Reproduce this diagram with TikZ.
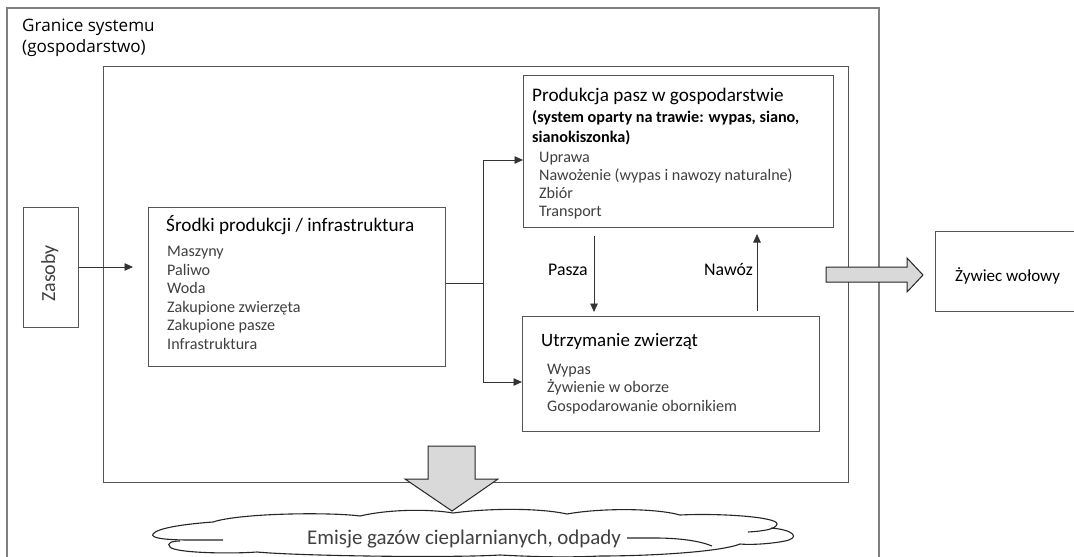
\documentclass[tikz,border=0pt]{standalone}
\usepackage{fontspec}
\setmainfont{Carlito}
\newfontfamily\titlefont{Open Sans}
\usetikzlibrary{arrows.meta,calc}
\definecolor{linegray}{HTML}{555555}
\definecolor{outergray}{HTML}{808080}
\definecolor{textgray}{HTML}{404040}
\definecolor{arrowfill}{HTML}{D9D9D9}
\newcommand{\fs}[2]{\fontsize{#1}{#2}\selectfont}
\begin{document}
\begin{tikzpicture}[x=1pt,y=-1pt,
  box/.style={draw=linegray, line width=1pt, inner sep=0pt, anchor=north west},
  headtxt/.style={anchor=base west, inner sep=0pt, text=black, font=\fs{19.2}{23}},
  itemtxt/.style={anchor=base west, inner sep=0pt, text=textgray, font=\fs{16.1}{19}},
  arr/.style={draw=black!80, line width=0.8pt, -{Triangle[length=8.5pt,width=7.5pt]}},
  conn/.style={draw=black!80, line width=0.8pt},
  bigarrow/.style={draw=black!85, line width=1pt, fill=arrowfill, line join=miter},
  cloudline/.style={draw=black!85, line width=1.1pt}]
\useasboundingbox (0,0) rectangle (1074,557);
\fill[white] (0,0) rectangle (1074,557);
\clip (0,0) rectangle (1074,557);

% outer system boundary
\draw[draw=outergray, line width=1.3pt] (7,580) -- (7,8) -- (879,8) -- (879,580);
\node[anchor=base west, inner sep=0pt, font=\titlefont\fs{17.1}{21}] (title1) at (22,31.5) {Granice systemu};
\node[anchor=base west, inner sep=0pt, font=\titlefont\fs{17.1}{21}] (title2) at (22,52.5) {(gospodarstwo)};

% inner farm box
\node[box, minimum width=745pt, minimum height=416pt] (inner) at (103,66) {};

% Zasoby
\node[box, minimum width=55pt, minimum height=120pt] (zas) at (23,207) {};
\node[anchor=base west, inner sep=0pt, rotate=90, text=textgray, font=\fs{20}{24}] (zastxt) at (55,302) {Zasoby};

% Srodki produkcji
\node[box, minimum width=297pt, minimum height=159pt] (srod) at (148,207) {};
\node[headtxt] (srodh) at (166,231) {Środki produkcji / infrastruktura};
\foreach \t [count=\i] in {Maszyny,Paliwo,Woda,Zakupione zwierzęta,Zakupione pasze,Infrastruktura}
  \node[itemtxt] (si\i) at (167,{238.2+18.5*\i}) {\t};

% Produkcja pasz
\node[box, minimum width=310pt, minimum height=152pt] (prod) at (523,75) {};
\node[headtxt, font=\fs{19.2}{22}] (prodh1) at (532,101) {Produkcja pasz w gospodarstwie};
\node[headtxt, font=\bfseries\fs{16.2}{20}] (prodh2) at (532,122) {(system oparty na trawie: wypas, siano,};
\node[headtxt, font=\bfseries\fs{16.2}{20}] (prodh3) at (532,142) {sianokiszonka)};
\foreach \t [count=\i] in {Uprawa,Nawożenie (wypas i nawozy naturalne),Zbiór,Transport}
  \node[itemtxt] (pi\i) at (539,{144+18*\i}) {\t};

% Utrzymanie zwierzat
\node[box, minimum width=297pt, minimum height=115pt] (utrz) at (522,316) {};
\node[headtxt, font=\fs{18.9}{22}] (utrzh) at (541,346) {Utrzymanie zwierząt};
\foreach \t [count=\i] in {Wypas,Żywienie w oborze,Gospodarowanie obornikiem}
  \node[itemtxt] (ui\i) at (547,{355.5+18.5*\i}) {\t};

% Zywiec
\node[box, minimum width=160pt, minimum height=80pt] (zyw) at (935,231) {};
\node[anchor=base west, inner sep=0pt, font=\fs{17}{20}] (zywtxt) at (955,281) {Żywiec wołowy};

% connectors
\coordinate (jm) at (483,283);
\coordinate (jt) at (483,160);
\coordinate (jb) at (483,382);
\coordinate (ya) at (0,267);
\draw[arr, shorten >=15pt] (zas.east |- ya) -- (srod.west |- ya);
\draw[conn] (srod.east |- jm) -- (jm);
\draw[conn] (jt) -- (jb);
\draw[arr] (jt) -- (prod.west |- jt);
\draw[arr] (jb) -- (utrz.west |- jb);

\coordinate (pa) at (594,0);
\coordinate (nw) at (757,0);
\draw[arr, shorten <=8pt, shorten >=4pt] (pa |- prod.south) -- (pa |- utrz.north);
\draw[arr, shorten <=5pt, shorten >=6pt] (nw |- utrz.north) -- (nw |- prod.south);
\node[anchor=base west, inner sep=0pt, font=\fs{17.8}{21}] (pasza) at (548,275) {Pasza};
\node[anchor=base west, inner sep=0pt, font=\fs{17.8}{21}] (nawoz) at (704,275) {Nawóz};

% big arrows
\draw[bigarrow] (826,267) -- (907,267) -- (907,258) -- (923,275) -- (907,292) -- (907,282) -- (826,282) -- cycle;
\draw[bigarrow] (428,446) -- (475,446) -- (475,479) -- (498,479) -- (452,511) -- (405,479) -- (428,479) -- cycle;

% cloud
\draw[cloudline] (223,540) -- (190,540) .. controls (165,540) and (150,538) .. (153,534)
  .. controls (157,528) and (185,524) .. (213,522)
  .. controls (240,513) and (330,512) .. (360,516)
  .. controls (390,509) and (430,509) .. (453,513)
  .. controls (490,508) and (540,508) .. (567,514)
  .. controls (600,508) and (655,508) .. (680,515)
  .. controls (720,513) and (778,517) .. (777,524)
  .. controls (776,529) and (765,531) .. (748,532);
\draw[cloudline] (771,528) .. controls (795,530) and (800,538) .. (785,541)
  .. controls (770,544) and (750,545) .. (740,544)
  .. controls (720,552) and (650,556) .. (600,556)
  .. controls (560,558) and (520,556) .. (500,555)
  .. controls (450,558) and (300,556) .. (257,552)
  .. controls (230,554) and (175,553) .. (170,547)
  .. controls (166,543) and (172,541) .. (180,541);
\draw[cloudline] (627,538) -- (655,538) .. controls (680,538) and (700,541) .. (712,546);
\node[anchor=base west, inner sep=0pt, text=textgray, font=\fs{20.9}{25}] (emis) at (307,544) {Emisje gazów cieplarnianych, odpady};
\end{tikzpicture}
\end{document}
